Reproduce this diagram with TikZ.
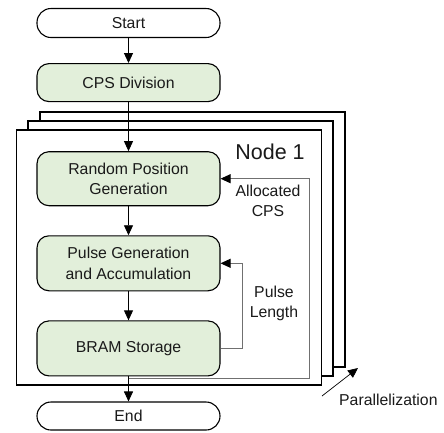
\documentclass[tikz,border=0pt]{standalone}
\usepackage{fontspec}
\setmainfont{Liberation Sans}
\usepackage{tikz}
\usetikzlibrary{arrows.meta,positioning}

\definecolor{boxgreen}{HTML}{E2EFDA}
\definecolor{txtgray}{HTML}{1A1A1A}
\definecolor{fbgray}{HTML}{707070}

\begin{document}
\begin{tikzpicture}[x=1pt, y=-1pt,
  term/.style={draw, line width=1.1pt, fill=white, rectangle, rounded corners=14pt,
               minimum width=183pt, minimum height=29pt, inner sep=0pt,
               font=\fontsize{15.8}{20}\selectfont, text=txtgray},
  proc/.style={draw, line width=1.1pt, fill=boxgreen, rectangle, rounded corners=12pt,
               minimum width=183pt, inner sep=0pt, align=center,
               font=\fontsize{15.8}{20.5}\selectfont, text=txtgray},
  frame/.style={draw, line width=1.1pt, fill=white, rectangle, inner sep=0pt,
                minimum width=305pt, minimum height=255pt},
  lbl/.style={align=center, inner sep=0pt, font=\fontsize{15.8}{20}\selectfont, text=txtgray},
  arr/.style={-{Triangle[length=10pt,width=9pt]}, line width=0.9pt},
  fb/.style={-{Triangle[length=10pt,width=9pt,color=black]}, line width=0.9pt, draw=fbgray}
]
\useasboundingbox (0,0) rectangle (444,432);

% stacked node frames
\node[frame] (f3) at (192.5,239.5) {};
\node[frame] (f2) at (180.5,248.5) {};
\node[frame] (f1) at (169,257.5)   {};
\node[lbl, font=\fontsize{21.5}{24}\selectfont] (nd) at (270,152) {Node 1};

% flow
\node[term] (start) at (128.5,23)           {Start};
\node[proc, minimum height=38pt, below=25pt of start] (cps)  {CPS Division};
\node[proc, minimum height=54pt, below=49pt of cps]   (rpg)  {Random Position\\Generation};
\node[proc, minimum height=55pt, below=29pt of rpg]   (pga)  {Pulse Generation\\and Accumulation};
\node[proc, minimum height=55pt, below=29pt of pga]   (bram) {BRAM Storage};
\node[term, minimum height=28pt] (end) at (128.5,416) {End};

\draw[arr] (start) -- (cps);
\draw[arr] (cps)   -- (rpg);
\draw[arr] (rpg)   -- (pga);
\draw[arr] (pga)   -- (bram);
\draw[arr] (bram)  -- (end);

% feedback loops
\coordinate (tap) at (128.5,378);
\coordinate (fbc) at (309,378);
\draw[fb] (tap) -- (fbc) |- (rpg.east);
\draw[fb] (bram.east) -- ++(22,0) |- (pga.east);
\node[lbl] (alc) at (268,201) {Allocated\\CPS};
\node[lbl] (pl)  at (274,303) {Pulse\\Length};

% parallelization
\coordinate (pa) at (322,396);
\coordinate (pb) at (358,368);
\draw[-{Triangle[length=10pt,width=9pt]}, line width=0.7pt] (pa) -- (pb);
\node[lbl, anchor=west] (par) at (339,400) {Parallelization};
\end{tikzpicture}
\end{document}
